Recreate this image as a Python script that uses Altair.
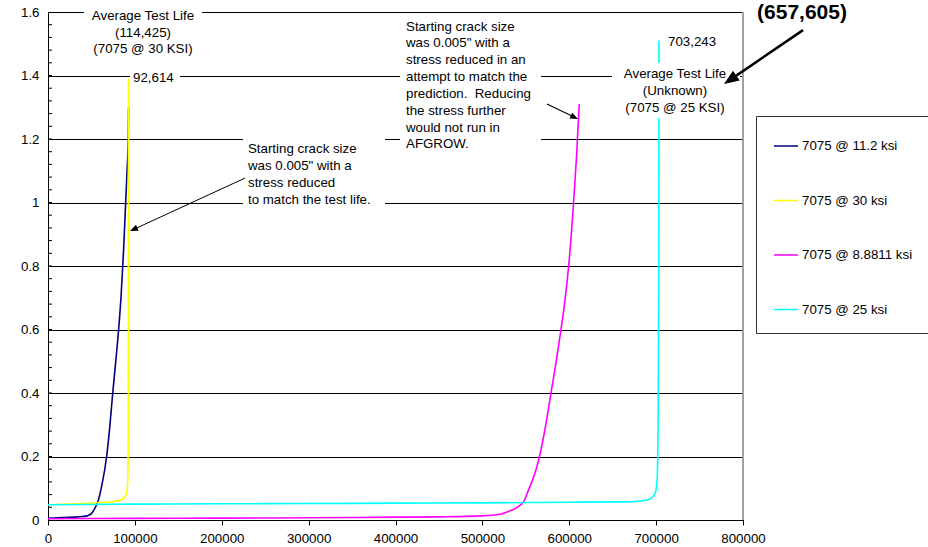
import math
import altair as alt
import pandas as pd

# Crack growth predictions (cycles vs crack length) for 7075 at several stresses
series_names = ["7075 @ 11.2 ksi", "7075 @ 30 ksi", "7075 @ 8.8811 ksi", "7075 @ 25 ksi"]
series_colors = ["#000080", "#FFFF00", "#FF00FF", "#00FFFF"]

cycles_11_2 = [0, 10000, 20000, 30000, 40000, 45000, 50000, 54000, 58000, 62000,
               67500, 71000, 74500, 78000, 81300, 84000, 87000, 89400, 91000, 92400, 92700]
crack_11_2 = [0.005, 0.007, 0.008, 0.009, 0.011, 0.013, 0.02, 0.037, 0.063, 0.11,
              0.2, 0.29, 0.4, 0.5, 0.6, 0.7, 0.85, 1.0, 1.1, 1.2, 1.3]

cycles_30 = [0, 20000, 40000, 60000, 75000, 82000, 86000, 89000, 90500, 91600,
             92200, 92450, 92580, 92614]
crack_30 = [0.048, 0.05, 0.052, 0.055, 0.058, 0.061, 0.066, 0.075, 0.085, 0.11,
            0.2, 0.4, 0.8, 1.39]

cycles_8_8811 = [0, 100000, 200000, 300000, 400000, 450000, 500000, 520000, 530000,
                 540000, 548000, 553000, 560500, 565500, 573000, 579000, 585000,
                 590500, 595000, 600000, 605000, 608500, 611500]
crack_8_8811 = [0.004, 0.005, 0.006, 0.007, 0.009, 0.01, 0.013, 0.018, 0.027,
                0.04, 0.06, 0.094, 0.147, 0.197, 0.3, 0.4, 0.5,
                0.6, 0.69, 0.82, 1.0, 1.15, 1.31]

cycles_25 = [0, 100000, 200000, 300000, 400000, 500000, 600000, 650000, 675000,
             688000, 695000, 699000, 701000, 702300, 703000, 703243]
crack_25 = [0.048, 0.05, 0.051, 0.052, 0.053, 0.054, 0.056, 0.057, 0.058,
            0.062, 0.07, 0.085, 0.12, 0.3, 0.8, 1.51]

x_ticks = [0, 100000, 200000, 300000, 400000, 500000, 600000, 700000, 800000]
y_ticks = [0, 0.2, 0.4, 0.6, 0.8, 1, 1.2, 1.4, 1.6]
y_minor = [round(i * 0.04, 2) for i in range(1, 40)]

FONT = "Liberation Sans"
FS = 13.3
W, H = 695, 508
X_MAX, Y_MAX = 800000, 1.6

rows = []
for name, xs, ys in zip(series_names,
                        [cycles_11_2, cycles_30, cycles_8_8811, cycles_25],
                        [crack_11_2, crack_30, crack_8_8811, crack_25]):
    rows += [{"series": name, "cycles": a, "crack": b} for a, b in zip(xs, ys)]
curves = pd.DataFrame(rows)

x_scale = alt.Scale(domain=[0, X_MAX], nice=False)
y_scale = alt.Scale(domain=[0, Y_MAX], nice=False)

x_axis = alt.Axis(
    values=x_ticks, format="d", title=None, grid=False, tickSize=5,
    tickColor="black", domainColor="black", labelColor="black",
    labelFont=FONT, labelFontSize=FS, labelPadding=6, labelFlush=False)
y_axis = alt.Axis(
    values=y_ticks, format="~g", title=None, grid=True, gridColor="black",
    gridWidth=1, ticks=False, domainColor="black", labelColor="black",
    labelFont=FONT, labelFontSize=FS, labelPadding=9)


def X(field):
    return alt.X(field, type="quantitative", scale=x_scale, axis=x_axis, title=None)


def Y(field):
    return alt.Y(field, type="quantitative", scale=y_scale, axis=y_axis, title=None)


lines = alt.Chart(curves).mark_line(strokeWidth=1.6, interpolate="monotone").encode(
    x=X("cycles"),
    y=Y("crack"),
    color=alt.Color("series:N", sort=series_names,
                    scale=alt.Scale(domain=series_names, range=series_colors),
                    legend=alt.Legend(
                        title=None, orient="none", legendX=708, legendY=104,
                        symbolType="stroke", symbolSize=576, symbolStrokeWidth=1.5,
                        labelFont=FONT, labelFontSize=FS, labelColor="black",
                        labelOffset=3, labelLimit=300, strokeColor="#333333",
                        fillColor="white", padding=17, rowPadding=34.5)),
)

# minor ticks on the inside of the y axis
minor = alt.Chart(pd.DataFrame({"v": y_minor})).mark_rule(color="black", strokeWidth=1).encode(
    y=Y("v"), x=alt.value(0), x2=alt.value(4))

# right frame of the plot area
frame = alt.Chart(pd.DataFrame({"x": [X_MAX], "y0": [0], "y1": [Y_MAX]})).mark_rule(
    color="#a0a0a0", strokeWidth=2).encode(x=X("x"), y=Y("y0"), y2="y1:Q")

# white backgrounds of the text boxes
boxes = pd.DataFrame({
    "x0": [41400, 94400, 224500, 405200, 649200],
    "x1": [177300, 151900, 387900, 567500, 796500],
    "y0": [1.458, 1.367, 0.983, 1.150, 1.266],
    "y1": [1.622, 1.417, 1.219, 1.591, 1.439],
})
box_layer = alt.Chart(boxes).mark_rect(fill="white", strokeWidth=0).encode(
    x=X("x0"), x2="x1:Q", y=Y("y0"), y2="y1:Q")

centered = pd.DataFrame({
    "text": ["Average Test Life", "(114,425)", "(7075 @ 30 KSI)",
             "Average Test Life", "(Unknown)", "(7075 @ 25 KSI)"],
    "x": [109350] * 3 + [721700] * 3,
    "y": [1.586, 1.534, 1.482, 1.405, 1.351, 1.298],
})
left = pd.DataFrame({
    "text": ["92,614", "703,243",
             "Starting crack size", "was 0.005\" with a", "stress reduced",
             "to match the test life.",
             "Starting crack size", "was 0.005\" with a", "stress reduced in an",
             "attempt to match the", "prediction.\u00a0 Reducing", "the stress further",
             "would not run in", "AFGROW."],
    "x": [97900, 713700] + [230200] * 4 + [412100] * 8,
    "y": [1.392, 1.506, 1.1676, 1.1146, 1.0617, 1.0088,
          1.554, 1.501, 1.448, 1.395, 1.342, 1.289, 1.236, 1.183],
})
bold = pd.DataFrame({"text": ["(657,605)"], "x": [867900], "y": [1.598]})

text_c = alt.Chart(centered).mark_text(align="center", baseline="middle", font=FONT,
                                        fontSize=FS, color="black").encode(
    x=X("x"), y=Y("y"), text="text:N")
text_l = alt.Chart(left).mark_text(align="left", baseline="middle", font=FONT,
                                    fontSize=FS, color="black").encode(
    x=X("x"), y=Y("y"), text="text:N")
text_b = alt.Chart(bold).mark_text(align="center", baseline="middle", font=FONT,
                                    fontSize=21, fontWeight="bold", color="black").encode(
    x=X("x"), y=Y("y"), text="text:N")


# annotation arrows: (tail x, tail y, tip x, tip y, line width, head length in px)
arrows = [
    (226800, 1.077, 94400, 0.910, 1.0, 8),
    (574400, 1.310, 610100, 1.263, 1.2, 8),
    (869100, 1.543, 778100, 1.373, 2.5, 15),
]


def to_px(x, y):
    return x / X_MAX * W, H - y / Y_MAX * H


def to_data(px, py):
    return px / W * X_MAX, (H - py) / H * Y_MAX


shaft_rows, head_rows = [], []
for tx, ty, hx, hy, lw, hl in arrows:
    p0 = to_px(tx, ty)
    p1 = to_px(hx, hy)
    dx, dy = p1[0] - p0[0], p1[1] - p0[1]
    d = math.hypot(dx, dy)
    ux, uy = dx / d, dy / d
    ex, ey = to_data(p1[0] - ux * hl * 0.7, p1[1] - uy * hl * 0.7)
    shaft_rows.append({"x0": tx, "y0": ty, "x1": ex, "y1": ey, "w": lw})
    head_rows.append({"x": hx, "y": hy,
                      "ang": math.degrees(math.atan2(dx, -dy)) % 360,
                      "sz": (2 * hl) ** 2})

shafts = alt.Chart(pd.DataFrame(shaft_rows)).mark_rule(color="black").encode(
    x=X("x0"), y=Y("y0"), x2="x1:Q", y2="y1:Q",
    strokeWidth=alt.StrokeWidth("w:Q", scale=None, legend=None))
heads = alt.Chart(pd.DataFrame(head_rows)).mark_point(
    shape="M0,0L-0.4,1L0.4,1Z", filled=True, color="black", opacity=1).encode(
    x=X("x"), y=Y("y"),
    angle=alt.Angle("ang:Q", scale=None),
    size=alt.Size("sz:Q", scale=None, legend=None))

chart = alt.layer(
    lines, minor, frame, box_layer, text_c, text_l, text_b, shafts, heads
).properties(
    width=W, height=H,
    padding={"left": 48, "top": 12, "right": 185, "bottom": 27},
    autosize=alt.AutoSizeParams(type="none"),
    background="white",
).configure_view(strokeOpacity=0)

chart.save("out.html", embed_options={"renderer": "svg", "actions": False})
